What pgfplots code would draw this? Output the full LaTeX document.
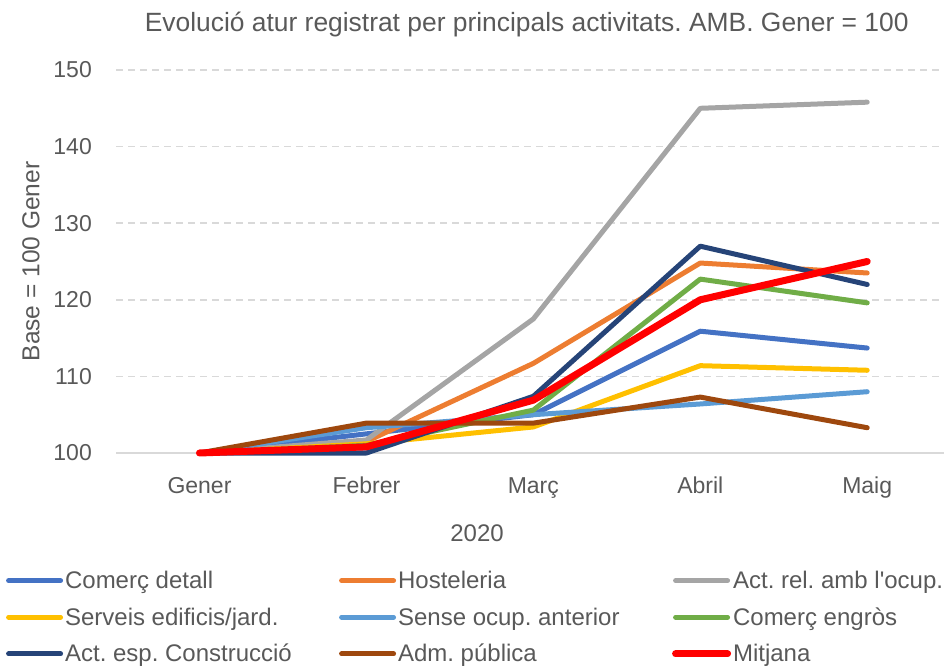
\documentclass[border=0pt]{standalone}
\usepackage{fontspec}
\setmainfont{Liberation Sans}
\usepackage{pgfplots}
\usepackage{pgfplotstable}
\pgfplotsset{compat=1.18}
\frenchspacing
\definecolor{txt}{HTML}{595959}
\definecolor{gridc}{HTML}{D9D9D9}
\definecolor{c1}{HTML}{4472C4}
\definecolor{c2}{HTML}{ED7D31}
\definecolor{c3}{HTML}{A5A5A5}
\definecolor{c4}{HTML}{FFC000}
\definecolor{c5}{HTML}{5B9BD5}
\definecolor{c6}{HTML}{70AD47}
\definecolor{c7}{HTML}{264478}
\definecolor{c8}{HTML}{9E480E}
\definecolor{c9}{HTML}{FF0000}
\pgfplotstableread{
x  cd     hos    arel   serv   sense  engr   cons   adm    mit
0  100    100    100    100    100    100    100    100    100
1  102.5  101.5  101.7  101.2  103.3  101.0  100.0  103.9  100.8
2  105.0  111.7  117.5  103.4  105.0  105.6  107.4  103.9  106.9
3  115.9  124.8  145.0  111.4  106.4  122.7  127.0  107.3  120.0
4  113.7  123.5  145.8  110.8  108.0  119.6  122.0  103.3  125.0
}\datatable
\begin{document}
\begin{tikzpicture}
\useasboundingbox (0,0) rectangle (944bp,668bp);
\begin{axis}[
  at={(116bp,215bp)}, anchor=south west,
  scale only axis, width=828bp, height=383bp,
  xmin=-0.5, xmax=4.46, ymin=100, ymax=150,
  clip=false,
  axis line style={draw=none},
  xtick={0,1,2,3,4},
  xticklabels={Gener,Febrer,Març,Abril,Maig},
  ytick={100,110,120,130,140,150},
  major tick length=0pt,
  ymajorgrids,
  grid style={gridc, line width=1.5bp, dash pattern=on 7bp off 5bp},
  /pgf/number format/assume math mode=true,
  tick label style={font=\fontsize{23bp}{27bp}\selectfont, text=txt},
  yticklabel style={anchor=east, inner sep=0pt, xshift=-24bp},
  xticklabel style={anchor=north, inner sep=0pt, yshift=-24bp},
  title={Evolució atur registrat per principals activitats. AMB. Gener = 100},
  title style={at={(rel axis cs:0.496,1.086)}, anchor=base, font=\fontsize{26.4bp}{30bp}\selectfont, text=txt, inner sep=0pt},
  ylabel={Base = 100 Gener},
  ylabel style={at={(rel axis cs:-0.1027,0.5)}, anchor=center, rotate=0, font=\fontsize{24.5bp}{28bp}\selectfont, text=txt, inner sep=0pt},
  xlabel={2020},
  xlabel style={at={(rel axis cs:0.436,-0.232)}, anchor=base, font=\fontsize{24bp}{28bp}\selectfont, text=txt, inner sep=0pt},
  legend columns=3,
  legend cell align=left,
  legend style={at={(rel axis cs:-0.133,-0.303)}, anchor=north west, draw=none, fill=none,
    inner sep=0pt, column sep=0pt, row sep=13.5bp,
    font=\fontsize{24bp}{28bp}\selectfont, text=txt,
    nodes={inner sep=2bp}},
  legend image code/.code={\draw[#1, line cap=round] (0bp,0bp) -- (52bp,0bp);},
  every axis plot/.append style={line width=5bp, line join=round, line cap=round, mark=none},
]
\draw[gridc, line width=1.5bp] (rel axis cs:0,0) -- (rel axis cs:1.02,0);
\addplot[c1] table[x=x,y=cd]{\datatable};
\addlegendentry{\makebox[272bp][l]{Comerç detall}}
\addplot[c2] table[x=x,y=hos]{\datatable};
\addlegendentry{\makebox[272bp][l]{Hosteleria}}
\addplot[c3] table[x=x,y=arel]{\datatable};
\addlegendentry{Act. rel. amb l\textquotesingle ocup.}
\addplot[c4] table[x=x,y=serv]{\datatable};
\addlegendentry{Serveis edificis/jard.}
\addplot[c5] table[x=x,y=sense]{\datatable};
\addlegendentry{Sense ocup. anterior}
\addplot[c6] table[x=x,y=engr]{\datatable};
\addlegendentry{Comerç engròs}
\addplot[c7] table[x=x,y=cons]{\datatable};
\addlegendentry{Act. esp. Construcció}
\addplot[c8] table[x=x,y=adm]{\datatable};
\addlegendentry{Adm. pública}
\addplot[c9, line width=7bp] table[x=x,y=mit]{\datatable};
\addlegendentry{Mitjana}
\end{axis}
\end{tikzpicture}
\end{document}
